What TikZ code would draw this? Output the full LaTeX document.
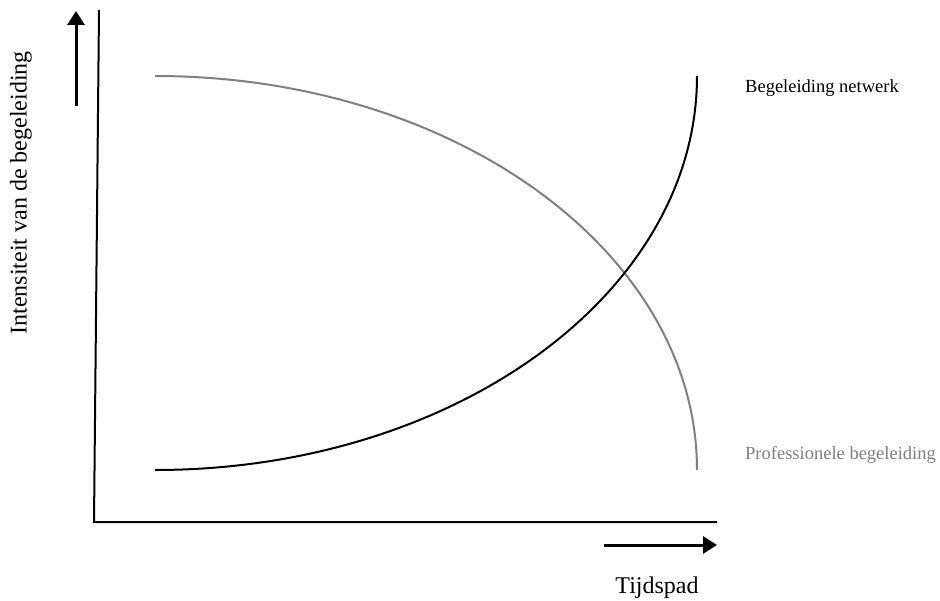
\documentclass[tikz,border=0pt]{standalone}
\usepackage{fontspec}
\setmainfont{Liberation Serif}
\usetikzlibrary{arrows.meta}
\definecolor{curvegray}{RGB}{128,128,128}
\tikzset{
  axisline/.style={line width=2pt, black},
  dirarrow/.style={line width=3pt, black, -{Triangle[length=14pt,width=17pt]}},
  curveblack/.style={line width=2pt, black},
  curvegrayst/.style={line width=2pt, curvegray},
  biglabel/.style={font=\fontsize{24}{28}\selectfont, inner sep=0pt},
  smalllabel/.style={font=\fontsize{18.5}{22}\selectfont, inner sep=0pt, anchor=base west},
}
\begin{document}
\begin{tikzpicture}[x=1pt,y=-1pt]
\useasboundingbox (0,0) rectangle (940,601);
% axes
\coordinate (ytop) at (99,10);
\coordinate (origin) at (94,522);
\coordinate (xend) at (717,522);
\draw[axisline] (ytop) -- (origin) -- (xend);
% direction arrows
\coordinate (upA) at (76,106);
\coordinate (upB) at (76,11);
\draw[dirarrow] (upA) -- (upB);
\coordinate (rtA) at (604,545);
\coordinate (rtB) at (717,545);
\draw[dirarrow] (rtA) -- (rtB);
% curves
\coordinate (gstart) at (155,76);
\coordinate (bstart) at (155,470);
\draw[curvegrayst] (gstart) arc[start angle=-90, end angle=0, x radius=542, y radius=394];
\draw[curveblack] (bstart) arc[start angle=90, end angle=0, x radius=542, y radius=394];
% labels
\node[biglabel, rotate=90] (ylab) at (21,193) {Intensiteit van de begeleiding};
\node[biglabel, anchor=base] (xlab) at (657,593) {Tijdspad};
\node[smalllabel] (netw) at (745,93) {Begeleiding netwerk};
\node[smalllabel, text=curvegray] (prof) at (745,460) {Professionele begeleiding};
\end{tikzpicture}
\end{document}
